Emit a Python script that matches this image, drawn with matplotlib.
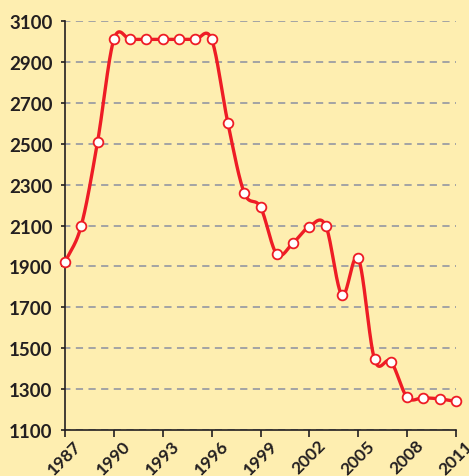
import numpy as np
import matplotlib
matplotlib.use("Agg")
import matplotlib.pyplot as plt

years = [1987, 1988, 1989, 1990, 1991, 1992, 1993, 1994, 1995, 1996, 1997, 1998,
         1999, 2000, 2001, 2002, 2003, 2004, 2005, 2006, 2007, 2008, 2009, 2010, 2011]
values = [1920, 2100, 2510, 3010, 3010, 3010, 3010, 3010, 3010, 3010, 2600, 2260,
          2190, 1960, 2015, 2095, 2100, 1760, 1940, 1445, 1435, 1260, 1258, 1252, 1240]
xticks = [1987, 1990, 1993, 1996, 1999, 2002, 2005, 2008, 2011]
yticks = [1100, 1300, 1500, 1700, 1900, 2100, 2300, 2500, 2700, 2900, 3100]

bg = "#FEEEB0"
red = "#EE1C25"
txt = "#231F20"


def catmull_rom(x, y, n=30):
    # smooth curve through the points (uniform Catmull-Rom)
    x = np.asarray(x, float)
    y = np.asarray(y, float)
    px = np.concatenate([[2 * x[0] - x[1]], x, [2 * x[-1] - x[-2]]])
    py = np.concatenate([[2 * y[0] - y[1]], y, [2 * y[-1] - y[-2]]])
    xs, ys = [], []
    t = np.linspace(0, 1, n, endpoint=False)
    for i in range(1, len(px) - 2):
        for arr, out in ((px, xs), (py, ys)):
            p0, p1, p2, p3 = arr[i - 1], arr[i], arr[i + 1], arr[i + 2]
            out.extend(0.5 * (2 * p1 + (-p0 + p2) * t
                              + (2 * p0 - 5 * p1 + 4 * p2 - p3) * t ** 2
                              + (-p0 + 3 * p1 - 3 * p2 + p3) * t ** 3))
    xs.append(x[-1])
    ys.append(y[-1])
    return np.array(xs), np.array(ys)


plt.rcParams["font.family"] = ["Lato", "DejaVu Sans"]

fig = plt.figure(figsize=(4.69, 4.77), dpi=100, facecolor=bg)
ax = fig.add_axes([0.1386, 0.0964, 0.8337, 0.8575], facecolor=bg)

sx, sy = catmull_rom(years, values)
ax.plot(sx, sy, color=red, lw=2.4, zorder=3, clip_on=False)
ax.plot(years, values, ls="none", marker="o", ms=7, mfc="white", mec=red,
        mew=1.3, zorder=4, clip_on=False)

ax.set_xlim(1987, 2011)
ax.set_ylim(1100, 3100)
ax.set_xticks(xticks)
ax.set_yticks(yticks)
ax.set_xticklabels([str(v) for v in xticks], rotation=45, ha="center",
                   fontsize=12.5, fontweight="bold", color=txt)
ax.set_yticklabels([str(v) for v in yticks], fontsize=13.5, fontweight="bold", color=txt)

ax.yaxis.grid(True, color="#9C9EA3", ls=(1, (4, 3)), lw=1.3)
ax.set_axisbelow(True)
for s in ["top", "right"]:
    ax.spines[s].set_visible(False)
for s in ["left", "bottom"]:
    ax.spines[s].set_color(txt)
    ax.spines[s].set_linewidth(1.2)
ax.tick_params(axis="y", length=3, width=1.2, color=txt, pad=6)
ax.tick_params(axis="x", length=5, width=1.2, color=txt, pad=0)

fig.savefig("out.png", dpi=100, facecolor=bg)
